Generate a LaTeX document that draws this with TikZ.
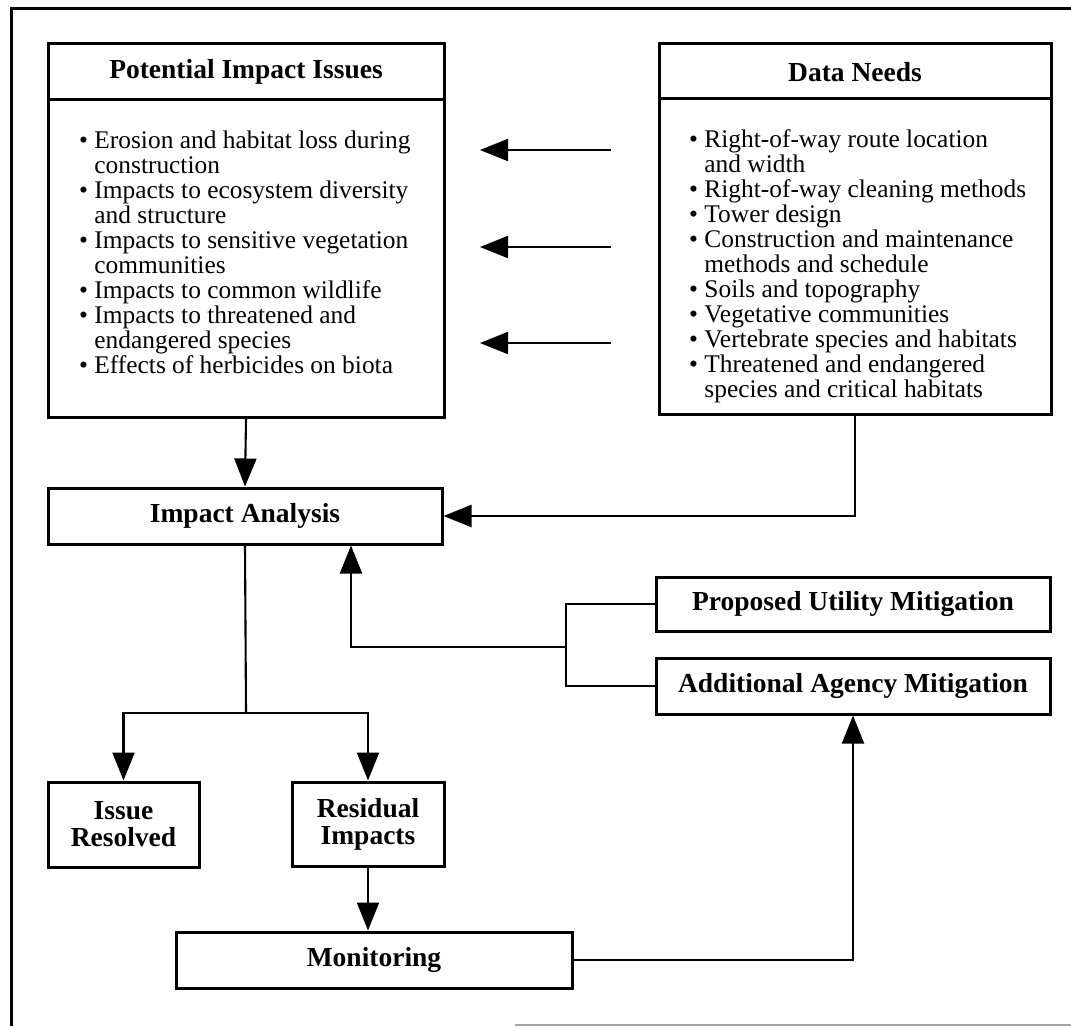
\documentclass[tikz,border=0pt]{standalone}
\usepackage{fontspec}
\setmainfont{Liberation Serif}
\usetikzlibrary{arrows.meta}

\newcommand{\bodyfont}{\fontsize{25.4}{25}\selectfont}
\newcommand{\headfont}{\fontsize{27.5}{27}\selectfont\bfseries}
\newcommand{\cont}{\hphantom{\textbullet\ }}

\begin{document}
\begin{tikzpicture}[x=1pt,y=-1pt,
  box/.style={draw, line width=3pt, inner sep=0pt},
  title/.style={font=\headfont, align=center, inner sep=0pt},
  list/.style={font=\bodyfont, align=left, inner sep=0pt, anchor=north west},
  conn/.style={line width=2.1pt},
  arr/.style={conn, -{Triangle[length=28pt,width=22pt]}},
  frameline/.style={line width=3pt}]

\useasboundingbox (0,0) rectangle (1071,1026);

% outer frame
\draw[frameline] (11,1026) -- (11,8) -- (1071,8);
\draw[line width=1.4pt, black!35] (515,1025) -- (1071,1025);

% upper boxes
\node[box, minimum width=396pt, minimum height=374pt] (pii) at (246,230) {};
\draw[line width=3pt] (48,99) -- (444,99);
\node[title] (piit) at (246,72) {Potential Impact Issues};
\node[list] (piil) at (79,131) {%
\textbullet\ Erosion and habitat loss during\\
\cont construction\\
\textbullet\ Impacts to ecosystem diversity\\
\cont and structure\\
\textbullet\ Impacts to sensitive vegetation\\
\cont communities\\
\textbullet\ Impacts to common wildlife\\
\textbullet\ Impacts to threatened and\\
\cont endangered species\\
\textbullet\ Effects of herbicides on biota};

\node[box, minimum width=392pt, minimum height=371pt] (dn) at (855,228.5) {};
\draw[line width=3pt] (659,98) -- (1051,98);
\node[title] (dnt) at (855,72) {Data Needs};
\node[list] (dnl) at (689,129) {%
\textbullet\ Right-of-way route location\\
\cont and width\\
\textbullet\ Right-of-way cleaning methods\\
\textbullet\ Tower design\\
\textbullet\ Construction and maintenance\\
\cont methods and schedule\\
\textbullet\ Soils and topography\\
\textbullet\ Vegetative communities\\
\textbullet\ Vertebrate species and habitats\\
\textbullet\ Threatened and endangered\\
\cont species and critical habitats};

% arrows between the upper boxes
\foreach \y [count=\i] in {150,247,343} {
  \coordinate (s\i) at (611,\y);
  \coordinate (t\i) at (480,\y);
  \draw[arr] (s\i) -- (t\i);
}

% lower boxes
\node[box, minimum width=394pt, minimum height=56pt, font=\headfont] (ia) at (245,516) {Impact Analysis};
\node[box, minimum width=394pt, minimum height=54pt, font=\headfont] (pum) at (853,604) {Proposed Utility Mitigation};
\node[box, minimum width=394pt, minimum height=56pt, font=\headfont] (aam) at (853,686) {Additional Agency Mitigation};
\node[box, minimum width=151pt, minimum height=85pt, font=\headfont, align=center] (ir) at (123.5,824.5) {Issue\\Resolved};
\node[box, minimum width=152pt, minimum height=84pt, font=\headfont, align=center] (ri) at (368,824) {Residual\\Impacts};
\node[box, minimum width=396pt, minimum height=56pt, font=\headfont] (mon) at (374,960) {Monitoring};

% connectors
\draw[arr] (pii.south) -- (ia.north);
\draw[arr] (dn.south) |- (ia.east);

\coordinate (split) at (246,713);
\draw[conn] (ia.south) -- (split);
\draw[arr] (split) -| (ir.north);
\draw[arr] (split) -| (ri.north);

\coordinate (mj) at (566,647);
\coordinate (upx) at (351,647);
\draw[conn] (pum.west) -| (mj);
\draw[conn] (aam.west) -| (mj);
\draw[arr] (mj) -- (upx) -- (upx |- ia.south);

\draw[arr] (ri.south) -- (ri.south |- mon.north);
\draw[arr] (mon.east) -| (aam.south);

\end{tikzpicture}
\end{document}
